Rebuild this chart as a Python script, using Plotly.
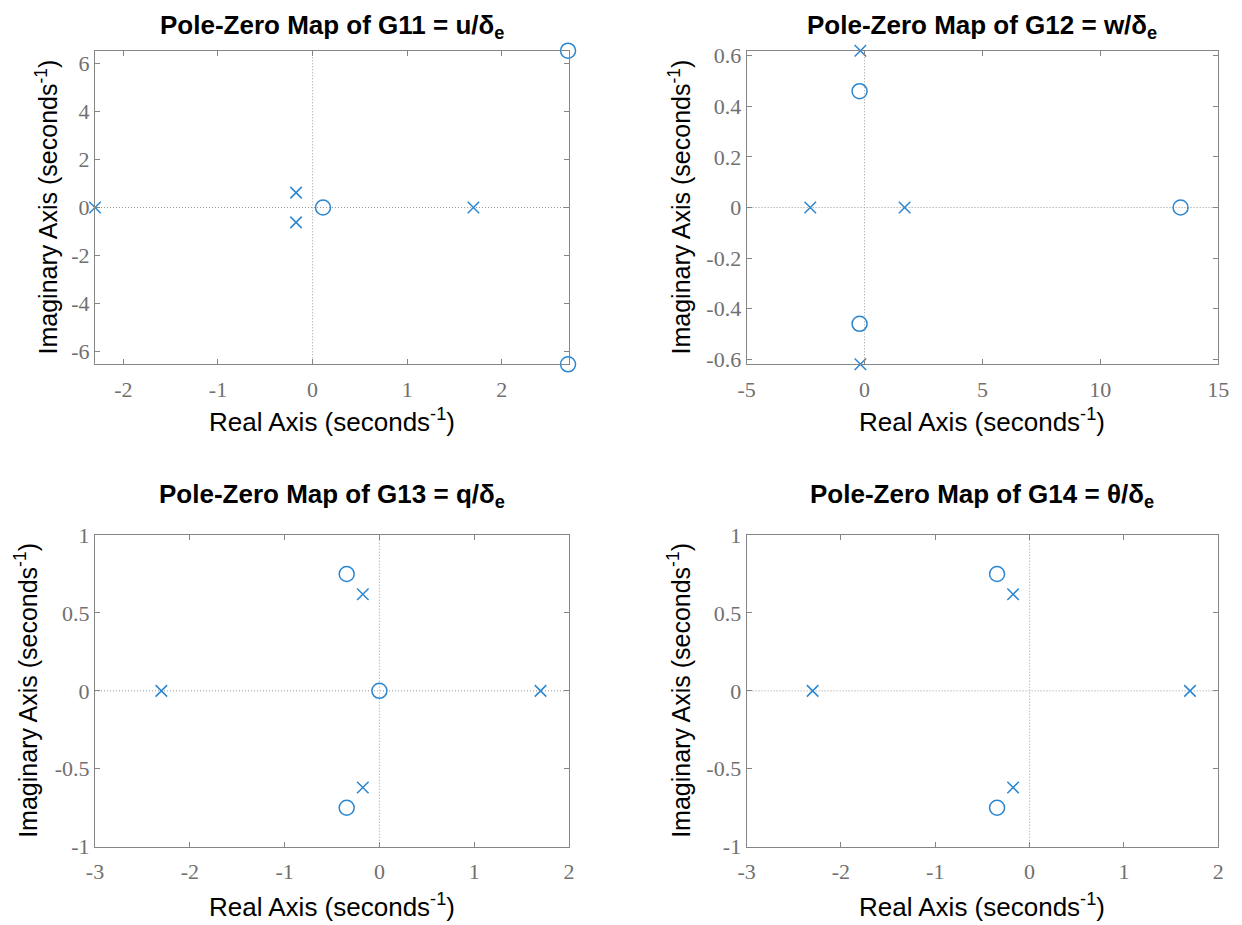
import plotly.graph_objects as go

# ---------------- data ----------------
g11_pole_re = [-2.3, -0.175, -0.175, 1.7]
g11_pole_im = [0.0, 0.62, -0.62, 0.0]
g11_zero_re = [0.11, 2.7, 2.7]
g11_zero_im = [0.0, 6.54, -6.54]

g12_pole_re = [-2.3, -0.175, -0.175, 1.7]
g12_pole_im = [0.0, 0.62, -0.62, 0.0]
g12_zero_re = [-0.21, -0.21, 13.4]
g12_zero_im = [0.46, -0.46, 0.0]

g13_pole_re = [-2.3, -0.175, -0.175, 1.7]
g13_pole_im = [0.0, 0.62, -0.62, 0.0]
g13_zero_re = [0.0, -0.345, -0.345]
g13_zero_im = [0.0, 0.75, -0.75]

g14_pole_re = [-2.3, -0.175, -0.175, 1.7]
g14_pole_im = [0.0, 0.62, -0.62, 0.0]
g14_zero_re = [-0.345, -0.345]
g14_zero_im = [0.75, -0.75]

titles = [
    "Pole-Zero Map of G11 = u/δ<sub>e</sub>",
    "Pole-Zero Map of G12 = w/δ<sub>e</sub>",
    "Pole-Zero Map of G13 = q/δ<sub>e</sub>",
    "Pole-Zero Map of G14 = θ/δ<sub>e</sub>",
]
xlabel = "Real Axis (seconds<sup>-1</sup>)"
ylabel = "Imaginary Axis (seconds<sup>-1</sup>)"

x_ranges = [[-2.3, 2.71], [-5, 15], [-3, 2], [-3, 2]]
y_ranges = [[-6.54, 6.54], [-0.62, 0.62], [-1, 1], [-1, 1]]

x_tickvals = [[-2, -1, 0, 1, 2], [-5, 0, 5, 10, 15], [-3, -2, -1, 0, 1, 2], [-3, -2, -1, 0, 1, 2]]
x_ticktext = [["-2", "-1", "0", "1", "2"], ["-5", "0", "5", "10", "15"],
              ["-3", "-2", "-1", "0", "1", "2"], ["-3", "-2", "-1", "0", "1", "2"]]
y_tickvals = [[-6, -4, -2, 0, 2, 4, 6], [-0.6, -0.4, -0.2, 0, 0.2, 0.4, 0.6],
              [-1, -0.5, 0, 0.5, 1], [-1, -0.5, 0, 0.5, 1]]
y_ticktext = [["-6", "-4", "-2", "0", "2", "4", "6"],
              ["-0.6", "-0.4", "-0.2", "0", "0.2", "0.4", "0.6"],
              ["-1", "-0.5", "0", "0.5", "1"], ["-1", "-0.5", "0", "0.5", "1"]]

poles = [(g11_pole_re, g11_pole_im), (g12_pole_re, g12_pole_im),
         (g13_pole_re, g13_pole_im), (g14_pole_re, g14_pole_im)]
zeros = [(g11_zero_re, g11_zero_im), (g12_zero_re, g12_zero_im),
         (g13_zero_re, g13_zero_im), (g14_zero_re, g14_zero_im)]

# ---------------- layout geometry (pixels) ----------------
W, H = 1242, 925
px_x = [(95, 569), (746.6, 1218.3), (95, 569), (746.6, 1218.3)]
px_y = [(50.7, 364.3), (50.7, 364.3), (535, 846.7), (535, 846.7)]
title_y = [26, 26, 496, 496]
xlabel_y = [420, 420, 905, 905]
ylabel_x = [46, 679, 26, 679]

BLUE = "#2a86d0"
AXC = "#858585"
TICKC = "#707070"
SANS = "Liberation Sans, Arial, sans-serif"
SERIF = "Liberation Serif, Times New Roman, serif"

fig = go.Figure()
annotations = []
shapes = []
layout_axes = {}

for i in range(4):
    n = "" if i == 0 else str(i + 1)
    xa, ya = "x" + n, "y" + n
    x0, x1 = px_x[i]
    y0, y1 = px_y[i]
    xdom = [x0 / W, x1 / W]
    ydom = [1 - y1 / H, 1 - y0 / H]

    fig.add_trace(go.Scatter(x=poles[i][0], y=poles[i][1], mode="markers",
                             xaxis=xa, yaxis=ya, cliponaxis=False,
                             marker=dict(symbol="x-thin-open", size=11.5, color=BLUE,
                                         line=dict(color=BLUE, width=1.5)),
                             showlegend=False, hoverinfo="skip"))
    fig.add_trace(go.Scatter(x=zeros[i][0], y=zeros[i][1], mode="markers",
                             xaxis=xa, yaxis=ya, cliponaxis=False,
                             marker=dict(symbol="circle-open", size=15, color=BLUE,
                                         line=dict(color=BLUE, width=1.5)),
                             showlegend=False, hoverinfo="skip"))

    common = dict(showgrid=False, zeroline=False, showline=True, linecolor=AXC,
                  linewidth=1, mirror="ticks", ticks="inside", ticklen=5,
                  tickcolor=AXC, tickwidth=1, automargin=False,
                  tickfont=dict(family=SERIF, size=22, color=TICKC))
    layout_axes["xaxis" + n] = dict(common, domain=xdom, range=x_ranges[i],
                                    anchor=ya, tickmode="array",
                                    tickvals=x_tickvals[i], ticktext=x_ticktext[i],
                                    ticklabelstandoff=5)
    layout_axes["yaxis" + n] = dict(common, domain=ydom, range=y_ranges[i],
                                    anchor=xa, tickmode="array",
                                    tickvals=y_tickvals[i], ticktext=y_ticktext[i])

    # dotted reference lines through the origin
    shapes.append(dict(type="line", xref=xa + " domain", yref=ya, x0=0, x1=1, y0=0, y1=0,
                       line=dict(color="#9a9a9a", width=1, dash="1px,2px"), layer="below"))
    shapes.append(dict(type="line", xref=xa, yref=ya + " domain", x0=0, x1=0, y0=0, y1=1,
                       line=dict(color="#9a9a9a", width=1, dash="1px,2px"), layer="below"))

    cx = (x0 + x1) / 2 / W
    annotations.append(dict(text="<b>" + titles[i] + "</b>", x=cx, y=1 - title_y[i] / H,
                            xref="paper", yref="paper", xanchor="center", yanchor="middle",
                            showarrow=False, font=dict(family=SANS, size=26, color="black")))
    annotations.append(dict(text=xlabel, x=cx, y=1 - xlabel_y[i] / H,
                            xref="paper", yref="paper", xanchor="center", yanchor="middle",
                            showarrow=False, font=dict(family=SANS, size=26, color="black")))
    annotations.append(dict(text=ylabel, x=ylabel_x[i] / W, y=1 - ((y0 + y1) / 2) / H,
                            xref="paper", yref="paper", xanchor="center", yanchor="middle",
                            textangle=-90, showarrow=False,
                            font=dict(family=SANS, size=25, color="black")))

fig.update_layout(width=W, height=H, margin=dict(l=0, r=0, t=0, b=0, autoexpand=False),
                  paper_bgcolor="white", plot_bgcolor="white",
                  annotations=annotations, shapes=shapes, showlegend=False,
                  **layout_axes)

fig.write_html("out.html", config={"displayModeBar": False})
